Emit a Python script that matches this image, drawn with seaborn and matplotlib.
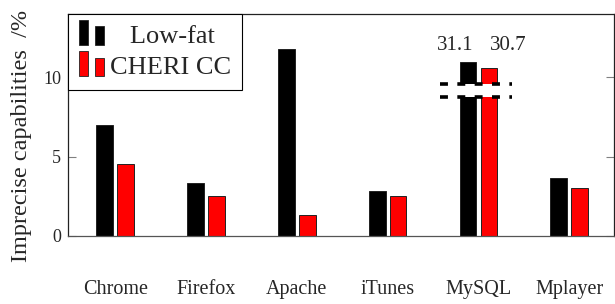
import pandas as pd
import matplotlib
matplotlib.use("Agg")
import matplotlib.pyplot as plt
import seaborn as sns
from matplotlib.patches import Rectangle
from matplotlib.legend_handler import HandlerBase

# =========================
# DATA
# =========================
apps = ["Chrome", "Firefox", "Apache", "iTunes", "MySQL", "Mplayer"]
low_fat = [7.0, 3.35, 11.8, 2.85, 31.1, 3.65]
cheri_cc = [4.55, 2.5, 1.35, 2.55, 30.7, 3.05]
series_names = ["Low-fat", "CHERI CC"]
y_ticks = [0, 5, 10]

# broken axis: values above the cut are drawn shifted down
break_lo, break_hi = 8.74, 9.56
break_shift = 20.1

# =========================
# STYLE
# =========================
sns.set_theme(style="white")
plt.rcParams['font.family'] = ['Liberation Serif', 'DejaVu Serif']


def shown(v):
    return v - break_shift if v > 20 else v


rows = []
for name, vals in zip(series_names, [low_fat, cheri_cc]):
    for app, v in zip(apps, vals):
        rows.append({"app": app, "series": name, "value": shown(v), "raw": v})
df = pd.DataFrame(rows)

fig = plt.figure(figsize=(6.15, 3.04), dpi=100)
ax = fig.add_axes([0.1106, 0.2237, 0.8874, 0.7303])

bar_width = 0.46
sns.barplot(
    data=df, x="app", y="value", hue="series",
    palette=["black", "#ff0000"], saturation=1, width=bar_width, gap=0.2,
    edgecolor="#222222", linewidth=0.7, legend=False, ax=ax,
    order=apps, hue_order=series_names
)

ax.set_xlim(-0.52, 5.49)
ax.set_ylim(0, 14)
ax.set_yticks(y_ticks)
ax.set_xlabel("")
ax.set_ylabel("Imprecise capabilities  /%", fontsize=17.5)
ax.yaxis.set_label_coords(-0.066, 0.45)

ax.tick_params(axis='y', direction='in', left=True, right=True,
               length=6, width=0.8, color='gray', labelsize=13, pad=5)
ax.tick_params(axis='x', length=0, labelsize=14.5, pad=32)

for s in ax.spines.values():
    s.set_color('#222222')
    s.set_linewidth(0.9)
ax.spines['bottom'].set_color('#555555')

# =========================
# AXIS BREAK ON MYSQL
# =========================
i = apps.index("MySQL")
xs = [i - 0.42, i + 0.37]
ax.fill_between(xs, break_lo, break_hi, color='white', zorder=4, lw=0)
for yb in [break_lo, break_hi]:
    ax.plot(xs, [yb, yb], color='black', lw=2.6, ls=(0, (2.2, 2.6)),
            zorder=5, solid_capstyle='butt', dash_capstyle='butt')

ax.text(i - bar_width / 4 - 0.14, 12.0, f"{low_fat[i]:.1f}",
        ha='center', va='center', fontsize=15)
ax.text(i + bar_width / 4 + 0.21, 12.0, f"{cheri_cc[i]:.1f}",
        ha='center', va='center', fontsize=15)


# =========================
# LEGEND (two small bars like pgfplots)
# =========================
class TwoBars(HandlerBase):
    def create_artists(self, legend, orig_handle, xdescent, ydescent,
                       width, height, fontsize, trans):
        fc = orig_handle.get_facecolor()
        w = width * 0.36
        x0 = -xdescent
        y0 = -ydescent - height * 0.1
        r1 = Rectangle((x0, y0), w, height * 1.35, facecolor=fc,
                       edgecolor='#222222', lw=0.6, transform=trans)
        r2 = Rectangle((x0 + width * 0.64, y0), w, height * 1.0,
                       facecolor=fc, edgecolor='#222222', lw=0.6,
                       transform=trans)
        return [r1, r2]


handles = [Rectangle((0, 0), 1, 1, facecolor="black"),
           Rectangle((0, 0), 1, 1, facecolor="#ff0000")]
leg = ax.legend(handles, ["   " + series_names[0], series_names[1]],
                handler_map={Rectangle: TwoBars()},
                loc='upper left', bbox_to_anchor=(0, 1), borderaxespad=0,
                fontsize=19, frameon=True, fancybox=False, framealpha=1,
                edgecolor='black', handlelength=0.95, handletextpad=0.25,
                borderpad=0.4, labelspacing=0.3)
leg.get_frame().set_linewidth(0.8)

plt.savefig("out.png", dpi=100)
